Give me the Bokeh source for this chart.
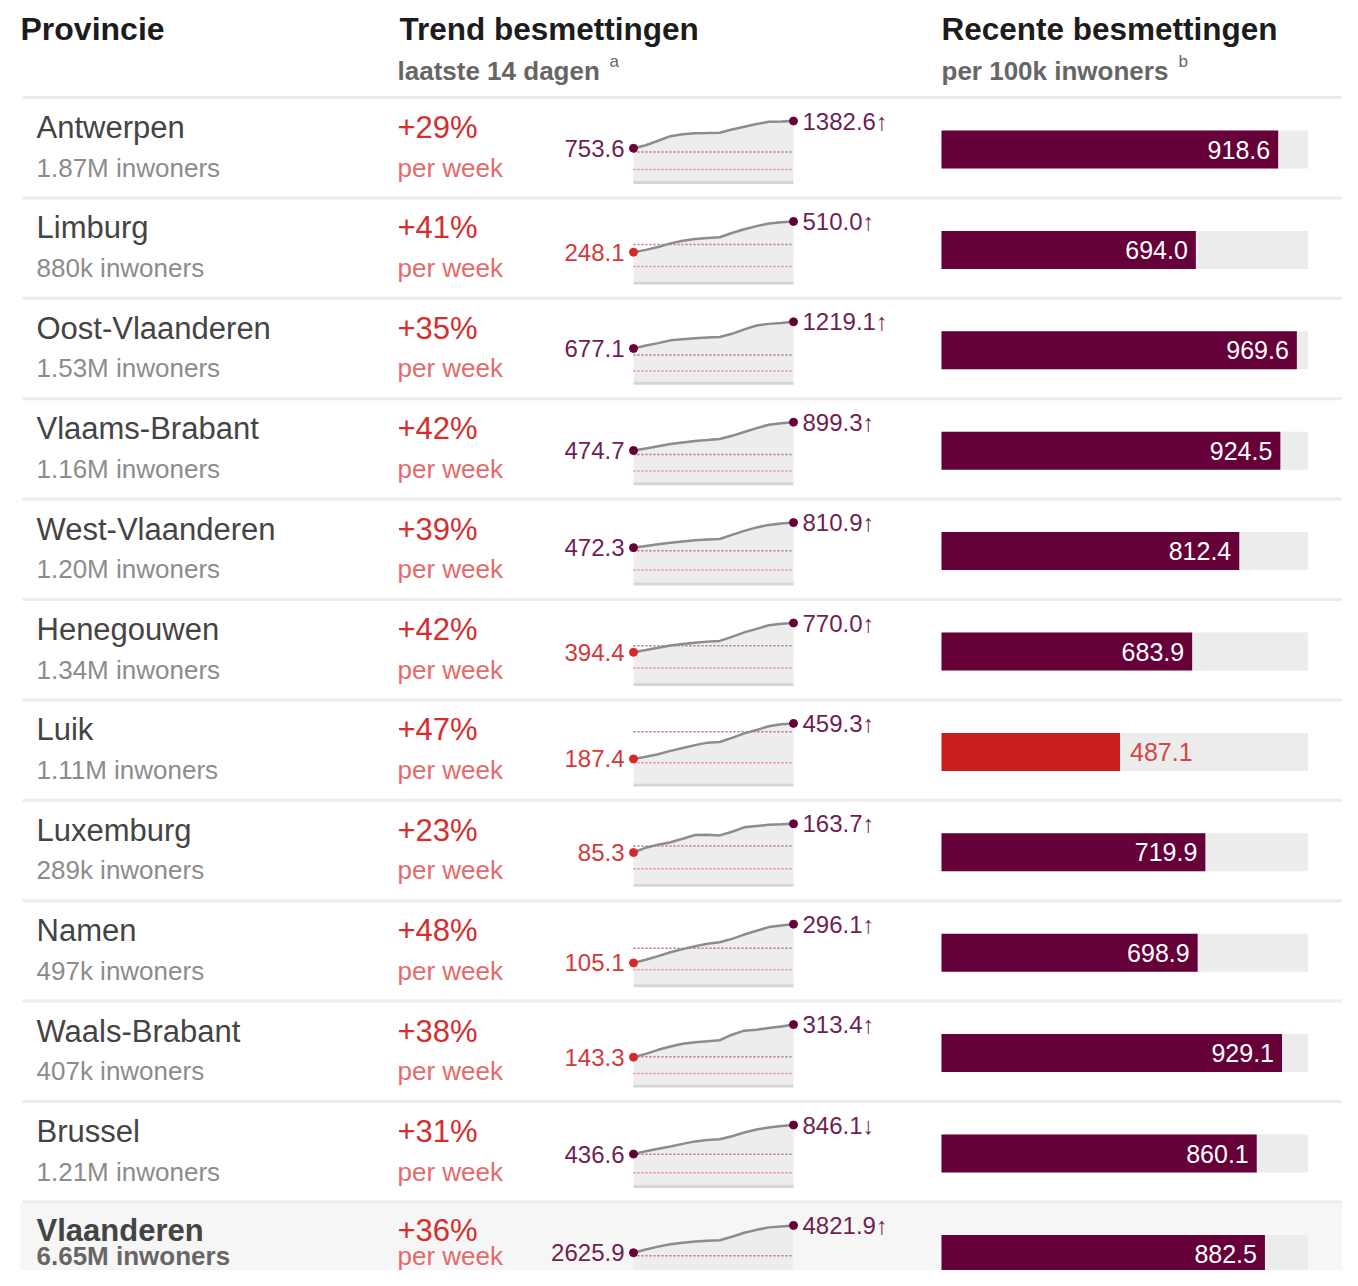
from bokeh.plotting import figure
from bokeh.models import Range1d
from bokeh.embed import file_html
from bokeh.resources import INLINE
from bokeh.core.properties import value

# ---------------- data ----------------
provinces = ["Antwerpen", "Limburg", "Oost-Vlaanderen", "Vlaams-Brabant", "West-Vlaanderen",
             "Henegouwen", "Luik", "Luxemburg", "Namen", "Waals-Brabant", "Brussel", "Vlaanderen"]
population_labels = ["1.87M inwoners", "880k inwoners", "1.53M inwoners", "1.16M inwoners",
                     "1.20M inwoners", "1.34M inwoners", "1.11M inwoners", "289k inwoners",
                     "497k inwoners", "407k inwoners", "1.21M inwoners", "6.65M inwoners"]
weekly_change_pct = [29, 41, 35, 42, 39, 42, 47, 23, 48, 38, 31, 36]
recent_per_100k = [918.6, 694.0, 969.6, 924.5, 812.4, 683.9, 487.1, 719.9, 698.9, 929.1, 860.1, 882.5]
trend_arrows = ["↑", "↑", "↑", "↑", "↑", "↑", "↑", "↑", "↑", "↑", "↓", "↑"]
# reference levels in the sparklines (daily cases)
level_high = [668, 314, 546, 414, 429, 479, 396, 103, 178, 145, 432, 2375]
level_low = [267, 126, 219, 166, 171, 191, 159, 41, 71, 58, 173, 950]

trend_antwerpen = [753.6, 823, 928, 1033, 1079, 1102, 1104, 1110, 1185, 1250, 1313, 1364, 1372, 1382.6]
trend_limburg = [248.1, 268, 293, 323, 345, 360, 369, 375, 411, 443, 470, 492, 503, 510.0]
trend_oost_vlaanderen = [677.1, 737, 786, 842, 866, 885, 899, 909, 975, 1064, 1144, 1177, 1197, 1219.1]
trend_vlaams_brabant = [474.7, 506, 540, 572, 596, 618, 632, 647, 695, 752, 810, 861, 885, 899.3]
trend_west_vlaanderen = [472.3, 496, 519, 540, 557, 573, 584, 590, 645, 699, 746, 780, 800, 810.9]
trend_henegouwen = [394.4, 423, 452, 482, 501, 518, 531, 540, 592, 650, 695, 741, 760, 770.0]
trend_luik = [187.4, 204, 223, 249, 271, 293, 312, 317, 349, 383, 409, 438, 453, 459.3]
trend_luxemburg = [85.3, 98.6, 106.8, 113.5, 123, 133, 133.8, 132, 142, 154, 158, 161, 162.2, 163.7]
trend_namen = [105.1, 120.8, 138.5, 157.6, 173, 187.7, 199.6, 206.8, 223.5, 245, 264, 281.8, 290, 296.1]
trend_waals_brabant = [143.3, 160.6, 181.7, 199, 213, 221, 226, 231.7, 260.7, 281.7, 287, 296, 304, 313.4]
trend_brussel = [436.6, 475, 510, 542, 580, 615, 636, 646, 688, 741, 783, 811, 832, 846.1]
trend_vlaanderen = [2625.9, 2880, 3117, 3315, 3434, 3529, 3592, 3632, 3910, 4227, 4465, 4663, 4742, 4821.9]

trends = [trend_antwerpen, trend_limburg, trend_oost_vlaanderen, trend_vlaams_brabant,
          trend_west_vlaanderen, trend_henegouwen, trend_luik, trend_luxemburg, trend_namen,
          trend_waals_brabant, trend_brussel, trend_vlaanderen]

bar_scale_max = 1000
bar_alert_level = 500

# ---------------- styles / layout ----------------
FONT = "Liberation Sans"
PURPLE = "#650038"
PURPLE_TXT = "#6e1f52"
RED = "#c81e1e"
W, H = 1342, 1270
X0, Y0 = 0, 0

p = figure(width=W, height=H, x_range=Range1d(X0, X0 + W), y_range=Range1d(Y0 + H, Y0),
           output_backend="svg", toolbar_location=None, min_border=0,
           x_axis_location=None, y_axis_location=None)
p.grid.visible = False
p.outline_line_color = None
p.background_fill_color = "white"
p.border_fill_color = "white"

n = len(provinces)
row_top = [97 + 100.4 * i for i in range(n)]

# spark x scale: index 0..13 -> x 633..793
SP_L, SP_R = 633, 793
npts = len(trend_antwerpen)
sk = (SP_R - SP_L) / (npts - 1)
s0 = (X0 - SP_L) / sk
p.extra_x_ranges["spark"] = Range1d(s0, s0 + W / sk)
# bar x scale: 0..1000 -> x 941..1307.5
BAR_L, BAR_R = 941, 1307.5
bk = (BAR_R - BAR_L) / bar_scale_max
b0 = (X0 - BAR_L) / bk
p.extra_x_ranges["bar"] = Range1d(b0, b0 + W / bk)

# total row background (last row)
p.quad(left=[20], right=[X0 + W], top=[row_top[-1] + 1], bottom=[Y0 + H], fill_color="#f6f6f6", line_color=None)
# separators
p.segment(x0=[22] * n, x1=[X0 + W] * n, y0=row_top, y1=row_top, line_color="#ececec", line_width=3)

def txt(x, y, s, size, color, bold=False, align="left", baseline="middle", **kw):
    p.text(x=x, y=y, text=s, text_font=value(FONT), text_font_size=f"{size}px",
           text_color=color, text_font_style="bold" if bold else "normal",
           text_align=align, text_baseline=baseline, **kw)

# headers
txt([20], [28], ["Provincie"], 32, "#1c1c1c", bold=True)
txt([399], [28], ["Trend besmettingen"], 31.5, "#1c1c1c", bold=True)
txt([941], [28], ["Recente besmettingen"], 31.5, "#1c1c1c", bold=True)
txt([397], [70], ["laatste 14 dagen"], 26, "#666666", bold=True)
txt([609], [61], ["a"], 17, "#666666")
txt([941], [70], ["per 100k inwoners"], 26, "#666666", bold=True)
txt([1178], [61], ["b"], 17, "#666666")

# left columns
for i in range(n):
    T = row_top[i]
    total = (i == n - 1)
    y1 = T + 30 if not total else T + 29
    y2 = T + 70 if not total else T + 54
    txt([36], [y1], [provinces[i]], 31, "#444444", bold=total)
    txt([36], [y2], [population_labels[i]], 26, "#666666" if total else "#8c8c8c", bold=total)
    txt([397], [y1], [f"+{weekly_change_pct[i]}%"], 31, "#d42e2e")
    txt([397], [y2], ["per week"], 26, "#e26b6b")

# sparklines
idx = list(range(npts))
for i in range(n):
    T = row_top[i]
    tr = trends[i]
    base = T + 83.5
    vmax = max(tr)
    k = 60.0 / vmax
    s = (base - (Y0 + H)) / k
    rn = f"row{i}"
    p.extra_y_ranges[rn] = Range1d(s, s + H / k)
    p.varea(x=idx, y1=[0] * npts, y2=tr, fill_color="#ededed", x_range_name="spark", y_range_name=rn)
    p.segment(x0=[0], x1=[npts - 1], y0=[base + 1.5], y1=[base + 1.5], line_color="#d5d5d5",
              line_width=3, x_range_name="spark")
    p.segment(x0=[0], x1=[npts - 1], y0=[level_high[i]], y1=[level_high[i]], line_color="#b4709a",
              line_width=1.5, line_dash="2 2", x_range_name="spark", y_range_name=rn)
    p.segment(x0=[0], x1=[npts - 1], y0=[level_low[i]], y1=[level_low[i]], line_color="#ea8a8a",
              line_width=1.5, line_dash="2 2", x_range_name="spark", y_range_name=rn)
    p.line(idx, tr, line_color="#8c8c8c", line_width=2.5, x_range_name="spark", y_range_name=rn)
    first_col = PURPLE if tr[0] >= level_high[i] else "#d42a2a"
    first_txt = PURPLE_TXT if tr[0] >= level_high[i] else "#d23a3a"
    p.scatter([0], [tr[0]], size=8, fill_color=first_col, line_color=first_col,
              x_range_name="spark", y_range_name=rn)
    p.scatter([npts - 1], [tr[-1]], size=8, fill_color=PURPLE, line_color=PURPLE,
              x_range_name="spark", y_range_name=rn)
    txt([0], [tr[0]], [f"{tr[0]:.1f}"], 24, first_txt, align="right",
        x_offset=-9, x_range_name="spark", y_range_name=rn)
    txt([npts - 1], [tr[-1]], [f"{tr[-1]:.1f}{trend_arrows[i]}"], 24, PURPLE_TXT, align="left",
        x_offset=9, x_range_name="spark", y_range_name=rn)

# bars
centers = [t + 52 for t in row_top]
p.hbar(y=centers, left=[0] * n, right=[bar_scale_max] * n, height=38, fill_color="#ececec",
       line_color=None, x_range_name="bar")
bar_colors = [RED if v < bar_alert_level else PURPLE for v in recent_per_100k]
p.hbar(y=centers, left=[0] * n, right=recent_per_100k, height=38, fill_color=bar_colors,
       line_color=None, x_range_name="bar")
hi = [i for i in range(n) if recent_per_100k[i] >= bar_alert_level]
lo = [i for i in range(n) if recent_per_100k[i] < bar_alert_level]
txt([recent_per_100k[i] for i in hi], [centers[i] for i in hi],
    [f"{recent_per_100k[i]:.1f}" for i in hi], 25, "#ffffff", align="right",
    x_offset=-8, x_range_name="bar")
if lo:
    txt([recent_per_100k[i] for i in lo], [centers[i] for i in lo],
        [f"{recent_per_100k[i]:.1f}" for i in lo], 25, "#d64545", align="left",
        x_offset=10, x_range_name="bar")

open("out.html", "w").write(file_html(p, INLINE))
